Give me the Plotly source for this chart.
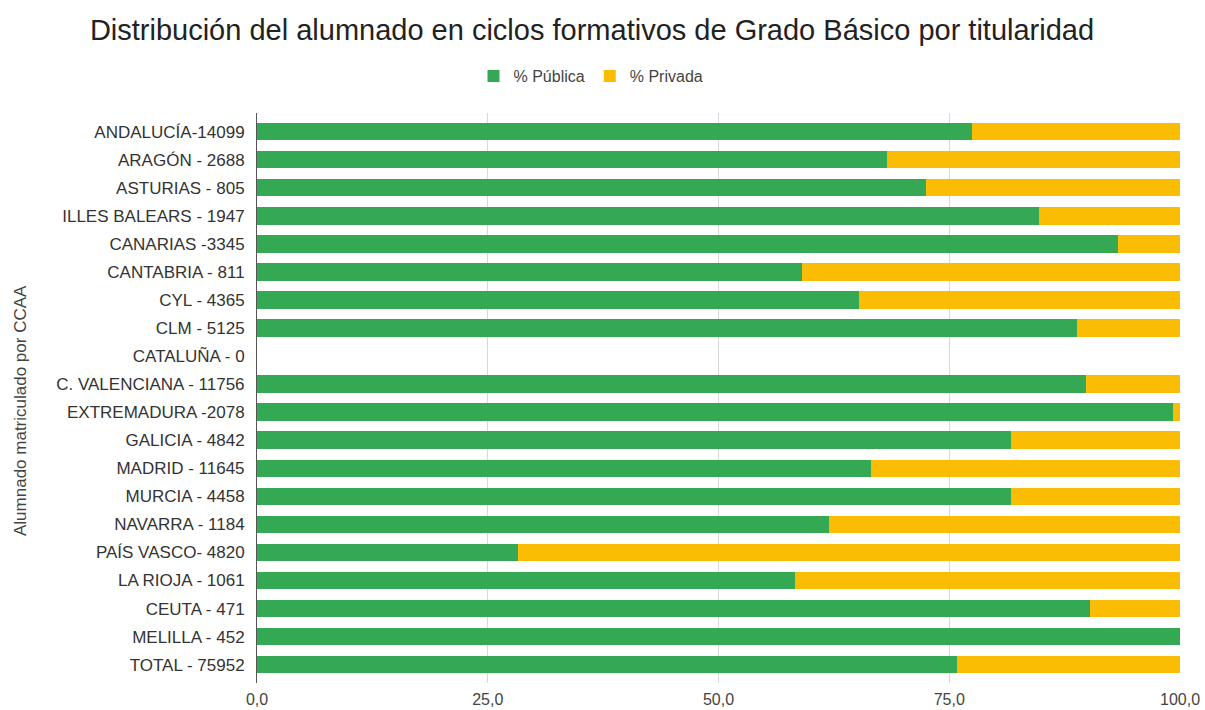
import plotly.graph_objects as go

categories = [
    "ANDALUCÍA-14099", "ARAGÓN - 2688", "ASTURIAS - 805", "ILLES BALEARS - 1947",
    "CANARIAS -3345", "CANTABRIA - 811", "CYL - 4365", "CLM - 5125",
    "CATALUÑA - 0", "C. VALENCIANA - 11756", "EXTREMADURA -2078", "GALICIA - 4842",
    "MADRID - 11645", "MURCIA - 4458", "NAVARRA - 1184", "PAÍS VASCO- 4820",
    "LA RIOJA - 1061", "CEUTA - 471", "MELILLA - 452", "TOTAL - 75952",
]
publica = [77.5, 68.3, 72.5, 84.7, 93.3, 59.1, 65.2, 88.8, 0.0, 89.8,
           99.2, 81.7, 66.5, 81.7, 62.0, 28.3, 58.3, 90.3, 100.0, 75.8]
privada = [22.5, 31.7, 27.5, 15.3, 6.7, 40.9, 34.8, 11.2, 0.0, 10.2,
           0.8, 18.3, 33.5, 18.3, 38.0, 71.7, 41.7, 9.7, 0.0, 24.2]
x_ticks = [0, 25, 50, 75, 100]

# body margin is removed by post_script, so figure coords == screen coords
W, H = 1205, 710
L, T = 257, 113
R = W - 1180
B = H - 683
PW, PH = W - L - R, H - T - B

fig = go.Figure()
fig.add_trace(go.Bar(y=categories, x=publica, name="% Pública", orientation="h",
                     marker=dict(color="#34a853", line=dict(width=0))))
fig.add_trace(go.Bar(y=categories, x=privada, name="% Privada", orientation="h",
                     marker=dict(color="#fbbc04", line=dict(width=0))))

font = "Liberation Sans, Arial, sans-serif"
fig.update_layout(
    width=W, height=H,
    margin=dict(l=L, r=R, t=T, b=B, autoexpand=False),
    barmode="stack", bargap=0.375,
    paper_bgcolor="white", plot_bgcolor="white",
    separators=",.",
    font=dict(family=font, color="#444", size=16),
    title=dict(text="Distribución del alumnado en ciclos formativos de Grado Básico por titularidad",
               x=592 / W, xanchor="center", y=1 - 30 / H, yanchor="middle",
               font=dict(size=29, color="#222", family=font)),
    legend=dict(orientation="h", x=(591 - L) / PW, xanchor="center",
                y=1 + (T - 76) / PH, yanchor="middle",
                font=dict(size=16, color="#444"), traceorder="normal",
                itemwidth=30),
    xaxis=dict(range=[0, 100], tickvals=x_ticks, tickformat=".1f",
               showgrid=True, gridcolor="#d9d9d9", gridwidth=1,
               zeroline=False, showline=False, ticks="",
               ticklabelstandoff=5,
               tickfont=dict(size=16, color="#444")),
    yaxis=dict(categoryorder="array", categoryarray=categories,
               range=[19.652, -0.663], showgrid=False,
               showline=True, linecolor="#555", linewidth=1, ticks="",
               ticklabelstandoff=8,
               tickfont=dict(size=17, color="#333")),
    annotations=[dict(text="Alumnado matriculado por CCAA", textangle=-90,
                      xref="paper", yref="paper",
                      x=-(L - 20) / PW, y=1 - (410 - T) / PH,
                      xanchor="center", yanchor="middle", showarrow=False,
                      font=dict(size=17, color="#444"))],
)
fig.write_html(
    "out.html",
    config={"displayModeBar": False},
    post_script="document.body.style.margin='0';document.body.style.overflow='hidden';"
                "document.documentElement.style.overflow='hidden';",
)
